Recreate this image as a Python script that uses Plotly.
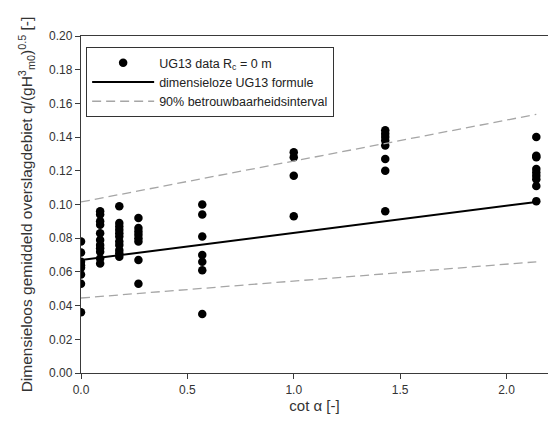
import plotly.graph_objects as go

# Data
cot_alpha_data = (
    [0.0] * 8 + [0.09] * 11 + [0.18] * 11 + [0.27] * 8 +
    [0.57] * 7 + [1.0] * 4 + [1.43] * 8 + [2.14] * 9
)
q_data = [
    # cot = 0
    0.078, 0.0715, 0.066, 0.064, 0.0625, 0.0585, 0.053, 0.036,
    # cot = 0.09
    0.096, 0.094, 0.090, 0.088, 0.083, 0.079, 0.076, 0.074, 0.072, 0.068, 0.065,
    # cot = 0.18
    0.099, 0.089, 0.087, 0.085, 0.083, 0.081, 0.078, 0.076, 0.073, 0.071, 0.069,
    # cot = 0.27
    0.092, 0.086, 0.084, 0.082, 0.080, 0.078, 0.067, 0.053,
    # cot = 0.57
    0.100, 0.094, 0.081, 0.070, 0.066, 0.061, 0.035,
    # cot = 1.0
    0.131, 0.128, 0.117, 0.093,
    # cot = 1.43
    0.144, 0.142, 0.140, 0.138, 0.135, 0.127, 0.120, 0.096,
    # cot = 2.14
    0.140, 0.129, 0.128, 0.121, 0.119, 0.117, 0.115, 0.111, 0.102,
]

formula_x = [0.0, 2.14]
formula_y = [0.067, 0.1015]
upper_x = [0.0, 2.14]
upper_y = [0.1015, 0.1535]
lower_x = [0.0, 2.14]
lower_y = [0.0445, 0.066]

x_tickvals = [0.0, 0.5, 1.0, 1.5, 2.0]
y_tickvals = [0.00, 0.02, 0.04, 0.06, 0.08, 0.10, 0.12, 0.14, 0.16, 0.18, 0.20]

FONT = "Liberation Sans, Arial, sans-serif"
AXIS_COLOR = "#3a3a3a"

fig = go.Figure()
fig.add_trace(go.Scatter(
    x=cot_alpha_data, y=q_data, mode="markers",
    marker=dict(color="black", size=8.5),
    name="UG13 data R<sub>c</sub> = 0 m",
))
fig.add_trace(go.Scatter(
    x=formula_x, y=formula_y, mode="lines",
    line=dict(color="black", width=2),
    name="dimensieloze UG13 formule",
))
fig.add_trace(go.Scatter(
    x=upper_x, y=upper_y, mode="lines",
    line=dict(color="#a6a6a6", width=1.3, dash="9px,5px"),
    name="90% betrouwbaarheidsinterval",
))
fig.add_trace(go.Scatter(
    x=lower_x, y=lower_y, mode="lines",
    line=dict(color="#a6a6a6", width=1.3, dash="9px,5px"),
    name="90% betrouwbaarheidsinterval", showlegend=False,
))

fig.update_layout(
    width=548, height=421,
    margin=dict(l=81, r=0, t=36, b=48),
    paper_bgcolor="white", plot_bgcolor="white",
    font=dict(family=FONT, size=12, color="#333333"),
    showlegend=True,
    legend=dict(
        x=0.011, y=0.967, xanchor="left", yanchor="top",
        bordercolor="#333333", borderwidth=1, bgcolor="white",
        font=dict(family=FONT, size=12.5, color="#222222"),
        itemwidth=62, tracegroupgap=0,
    ),
)
fig.update_xaxes(
    range=[0, 2.195], tickvals=x_tickvals, tickformat=".1f",
    showgrid=False, zeroline=False,
    showline=True, linecolor=AXIS_COLOR, linewidth=1.3, mirror=True,
    ticks="outside", ticklen=5, tickcolor=AXIS_COLOR, tickwidth=1,
    tickfont=dict(family=FONT, size=12, color="#333333"),
    title=dict(text="cot α [-]", font=dict(family=FONT, size=15, color="#333333"), standoff=2),
)
fig.update_yaxes(
    range=[0, 0.2], tickvals=y_tickvals, tickformat=".2f",
    showgrid=False, zeroline=False,
    showline=True, linecolor=AXIS_COLOR, linewidth=1.3, mirror=False,
    ticks="outside", ticklen=5, tickcolor=AXIS_COLOR, tickwidth=1,
    tickfont=dict(family=FONT, size=12, color="#333333"),
    title=dict(
        text="Dimensieloos gemiddeld overslagdebiet q/(gH<sup>3</sup><sub>m0</sub>)<sup>0.5</sup> [-]",
        font=dict(family=FONT, size=15.5, color="#333333"), standoff=12,
    ),
)

fig.write_html("out.html")
